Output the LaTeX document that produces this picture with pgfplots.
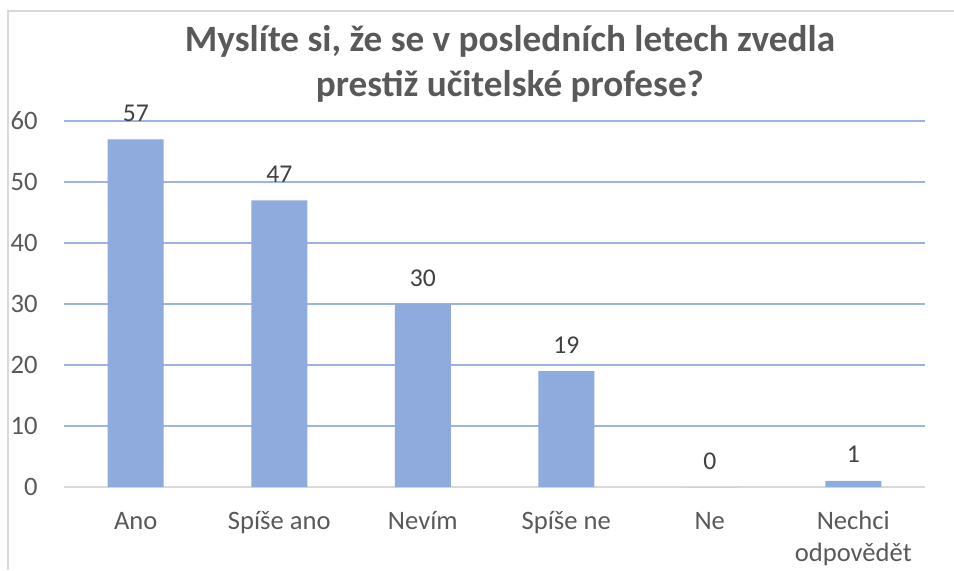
\documentclass[border=0pt]{standalone}
\usepackage{fontspec}
\setmainfont{Carlito}
\usepackage{pgfplots}
\pgfplotsset{compat=1.18}
\definecolor{barblue}{HTML}{8FAADC}
\definecolor{gridblue}{HTML}{9CB4E0}
\definecolor{txt}{HTML}{595959}
\definecolor{lab}{HTML}{404040}
\definecolor{frame}{HTML}{D9D9D9}
\setlength{\tabcolsep}{0pt}
\begin{document}
\begin{tikzpicture}
\path[use as bounding box] (0,0) rectangle (477pt,285pt);
\draw[frame, line width=0.8pt] (4pt,0) -- (4pt,279.5pt) -- (477pt,279.5pt);
\node[anchor=base, text=txt, font=\fontsize{18.6}{22}\selectfont\bfseries] at (255pt,259.5pt) {Myslíte si, že se v posledních letech zvedla};
\node[anchor=base, text=txt, font=\fontsize{18.6}{22}\selectfont\bfseries] at (255pt,237pt) {prestiž učitelské profese?};
\begin{axis}[
  at={(32pt,41.5pt)}, anchor=south west,
  scale only axis, width=430.5pt, height=183pt,
  xmin=-0.5, xmax=5.5, ymin=0, ymax=60,
  axis line style={draw=none},
  major tick length=0pt,
  xtick={0,1,2,3,4,5},
  xticklabels={Ano, Spíše ano, Nevím, Spíše ne, Ne, {\begin{tabular}[t]{c}Nechci\\odpovědět\end{tabular}}},
  ytick={10,20,30,40,50,60},
  extra y ticks={0},
  extra y tick style={major grid style={draw=frame, line width=1pt}},
  ymajorgrids,
  major grid style={draw=gridblue, line width=0.8pt},
  /pgf/number format/assume math mode=true,
  tick label style={font=\fontsize{13.3}{16}\selectfont, text=txt},
  yticklabel style={anchor=east, inner sep=0pt, xshift=-13pt},
  xticklabel style={anchor=base, inner sep=0pt, yshift=-21pt},
  ybar, bar width=28pt,
  nodes near coords,
  every node near coord/.append style={anchor=base, inner sep=0pt, yshift=9pt, font=\fontsize{12.8}{14}\selectfont, text=lab},
]
\addplot[fill=barblue, draw=none] coordinates {(0,57) (1,47) (2,30) (3,19) (4,0) (5,1)};
\end{axis}
\end{tikzpicture}
\end{document}
